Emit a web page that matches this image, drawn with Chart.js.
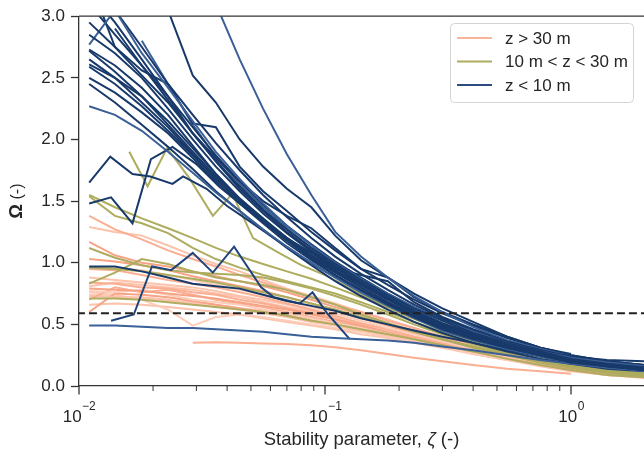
<!DOCTYPE html>
<html>
<head>
<meta charset="utf-8">
<script src="https://cdn.jsdelivr.net/npm/chart.js@4.4.1/dist/chart.umd.min.js"></script>
<style>
  html, body { margin: 0; padding: 0; background: #fff; }
  canvas { display: block; }
</style>
</head>
<body>
<canvas id="omegaChart" width="644" height="457"></canvas>
<script>
// shared stability parameter grid (zeta) for most profiles
const zeta = [0.011, 0.014, 0.018, 0.023, 0.029, 0.036, 0.045, 0.056, 0.07, 0.088, 0.11, 0.14, 0.18, 0.23, 0.3, 0.4, 0.55, 0.75, 1.0, 1.4, 2.0, 2.4];

// z < 10 m, values on the zeta grid
const lowSites = [
  [2.95, 2.75, 2.52, 2.3, 2.05, 1.83, 1.62, 1.43, 1.27, 1.12, 0.99, 0.86, 0.74, 0.63, 0.53, 0.43, 0.35, 0.28, 0.22, 0.18, 0.15, 0.14],
  [2.85, 2.7, 2.5, 2.25, 2.0, 1.78, 1.58, 1.4, 1.24, 1.09, 0.96, 0.83, 0.71, 0.6, 0.5, 0.41, 0.33, 0.27, 0.21, 0.17, 0.15, 0.13],
  [2.77, 3.05, 2.7, 2.42, 2.15, 1.9, 1.68, 1.48, 1.3, 1.14, 1.0, 0.87, 0.75, 0.64, 0.53, 0.44, 0.35, 0.28, 0.23, 0.19, 0.16, 0.14],
  [2.73, 2.6, 2.42, 2.2, 1.95, 1.72, 1.52, 1.36, 1.2, 1.06, 0.94, 0.82, 0.7, 0.59, 0.49, 0.41, 0.33, 0.26, 0.21, 0.17, 0.14, 0.13],
  [2.72, 2.55, 2.35, 2.12, 1.9, 1.7, 1.52, 1.35, 1.2, 1.05, 0.93, 0.8, 0.68, 0.58, 0.48, 0.4, 0.32, 0.25, 0.2, 0.16, 0.14, 0.12],
  [2.61, 2.5, 2.35, 2.15, 1.93, 1.72, 1.52, 1.34, 1.18, 1.04, 0.92, 0.8, 0.68, 0.57, 0.48, 0.4, 0.32, 0.26, 0.2, 0.17, 0.14, 0.12],
  [2.59, 2.45, 2.27, 2.07, 1.87, 1.68, 1.5, 1.33, 1.18, 1.03, 0.9, 0.78, 0.66, 0.56, 0.46, 0.38, 0.31, 0.25, 0.19, 0.16, 0.13, 0.12],
  [2.5, 2.38, 2.22, 2.05, 1.85, 1.66, 1.48, 1.32, 1.16, 1.02, 0.9, 0.78, 0.67, 0.57, 0.47, 0.39, 0.31, 0.25, 0.2, 0.16, 0.13, 0.12],
  [2.27, 2.2, 2.07, 1.9, 1.73, 1.57, 1.42, 1.27, 1.13, 1.0, 0.88, 0.76, 0.65, 0.55, 0.45, 0.37, 0.3, 0.24, 0.19, 0.15, 0.13, 0.12],
  [3.1, 2.85, 2.6, 2.35, 2.1, 1.87, 1.66, 1.47, 1.3, 1.15, 1.01, 0.88, 0.75, 0.64, 0.54, 0.45, 0.36, 0.29, 0.23, 0.19, 0.16, 0.14],
  [3.3, 3.05, 2.75, 2.45, 2.2, 1.97, 1.75, 1.55, 1.37, 1.2, 1.05, 0.91, 0.78, 0.66, 0.55, 0.45, 0.36, 0.29, 0.24, 0.21, 0.2, 0.18],
  [null, null, null, null, null, 3.1, 2.65, 2.25, 1.88, 1.55, 1.25, 1.05, 0.88, 0.73, 0.6, 0.48, 0.37, 0.3, 0.24, 0.19, 0.16, 0.15],
  [null, null, null, 3.05, 2.52, 2.3, 2.0, 1.78, 1.6, 1.45, 1.22, 1.02, 0.88, 0.75, 0.63, 0.52, 0.4, 0.31, 0.26, null, null, null],
  [3.3, 2.75, 2.56, 2.45, 2.13, 2.1, 1.78, 1.58, 1.42, 1.25, 1.1, 0.95, 0.82, 0.7, 0.59, 0.49, 0.39, 0.31, 0.25, 0.2, 0.17, 0.15],
  [3.2, 2.95, 2.65, 2.35, 2.05, 1.85, 1.66, 1.5, 1.38, 1.28, 1.12, 0.95, 0.88, 0.72, 0.6, 0.5, 0.4, 0.31, 0.25, 0.2, 0.17, 0.15],
  [0.97, 0.97, 0.93, 0.88, 0.83, 0.81, 0.79, 0.74, 0.69, 0.65, 0.61, 0.55, 0.5, 0.45, 0.4, 0.35, 0.29, 0.24, 0.19, 0.16, 0.13, 0.12],
  [0.49, 0.49, 0.48, 0.47, 0.47, 0.46, 0.45, 0.44, 0.42, 0.4, 0.39, 0.38, 0.37, 0.35, 0.32, 0.29, 0.25, 0.21, 0.18, 0.15, 0.12, 0.11],
  [null, 2.9, 2.6, 2.32, 2.05, 1.82, 1.6, 1.42, 1.25, 1.1, 0.97, 0.84, 0.72, 0.61, 0.51, 0.42, 0.34, 0.27, 0.21, 0.17, 0.14, 0.13],
  [null, null, 2.8, 2.45, 2.12, 1.86, 1.64, 1.45, 1.28, 1.12, 0.98, 0.85, 0.73, 0.62, 0.51, 0.42, 0.34, 0.27, 0.22, 0.18, 0.15, 0.14],
  [2.65, 2.5, 2.3, 2.1, 1.88, 1.68, 1.5, 1.35, 1.2, 1.08, 0.95, 0.9, 0.85, 0.68, 0.56, 0.46, 0.37, 0.3, 0.24, 0.2, 0.17, 0.15],
  [2.45, 2.3, 2.12, 1.94, 1.76, 1.58, 1.42, 1.27, 1.12, 0.98, 0.85, 0.73, 0.62, 0.52, 0.43, 0.35, 0.28, 0.22, 0.18, 0.14, 0.12, 0.11]
];
// which of the z < 10 m profiles use the lighter blue
const lowLight = [8, 11, 16, 2, 18];

// z < 10 m profiles with their own zeta points (zig-zags)
const lowZig1 = [[0.011, 1.65], [0.0134, 1.86], [0.0165, 1.72], [0.0195, 1.7], [0.024, 1.64], [0.0265, 1.7], [0.033, 1.6], [0.04, 1.46], [0.05, 1.33], [0.063, 1.19], [0.08, 1.05], [0.1, 0.93], [0.13, 0.8], [0.17, 0.68], [0.22, 0.58], [0.3, 0.48], [0.4, 0.4], [0.55, 0.32], [0.75, 0.25], [1.0, 0.2], [1.4, 0.17], [2.0, 0.14], [2.4, 0.13]];
const lowZig2 = [[0.011, 1.48], [0.0135, 1.53], [0.0165, 1.32], [0.0196, 1.84], [0.024, 1.94], [0.03, 1.8], [0.037, 1.62], [0.045, 1.48], [0.056, 1.34], [0.07, 1.2], [0.088, 1.06], [0.11, 0.94], [0.14, 0.82], [0.18, 0.7], [0.23, 0.6], [0.3, 0.5], [0.4, 0.42], [0.55, 0.34], [0.75, 0.27], [1.0, 0.22], [1.4, 0.18], [2.0, 0.15], [2.4, 0.14]];
const lowZig3 = [[0.0135, 0.53], [0.0167, 0.58], [0.0198, 0.97], [0.0237, 0.94], [0.029, 1.08], [0.035, 0.92], [0.0427, 1.13], [0.055, 0.8], [0.062, 0.72], [0.079, 0.67], [0.089, 0.76], [0.102, 0.59], [0.126, 0.38]];

// 10 m < z < 30 m
const midSites = [
  [1.55, 1.45, 1.36, 1.28, 1.2, 1.12, 1.05, 0.99, 0.93, 0.87, 0.8, 0.72, 0.64, 0.56, 0.47, 0.39, 0.31, 0.24, 0.18, 0.13, 0.1, 0.09],
  [1.54, 1.38, 1.32, 1.24, 1.12, 1.03, 0.96, 0.9, 0.85, 0.8, 0.75, 0.68, 0.6, 0.52, 0.44, 0.36, 0.29, 0.22, 0.16, 0.12, 0.09, 0.08],
  [1.12, 1.04, 0.98, 0.94, 0.92, 0.91, 0.9, 0.88, 0.84, 0.79, 0.73, 0.66, 0.58, 0.5, 0.42, 0.34, 0.27, 0.2, 0.15, 0.11, 0.08, 0.07],
  [0.83, 0.92, 1.03, 0.99, 0.93, 0.88, 0.85, 0.82, 0.78, 0.72, 0.66, 0.58, 0.51, 0.44, 0.38, 0.31, 0.25, 0.19, 0.15, 0.11, 0.08, 0.07],
  [0.71, 0.71, 0.7, 0.68, 0.66, 0.64, 0.62, 0.6, 0.57, 0.53, 0.5, 0.46, 0.42, 0.38, 0.33, 0.28, 0.22, 0.17, 0.13, 0.09, 0.07, 0.06],
  [0.96, 0.95, 0.93, 0.9, 0.87, 0.84, 0.8, 0.76, 0.72, 0.67, 0.62, 0.56, 0.5, 0.44, 0.38, 0.32, 0.26, 0.2, 0.15, 0.11, 0.08, 0.07]
];
const midZig = [[0.016, 1.9], [0.019, 1.62], [0.0228, 1.93], [0.028, 1.69], [0.035, 1.38], [0.042, 1.56], [0.051, 1.2], [0.065, 1.08], [0.08, 0.98], [0.1, 0.9], [0.13, 0.78], [0.17, 0.66], [0.22, 0.56], [0.3, 0.46], [0.4, 0.37], [0.55, 0.29], [0.75, 0.22], [1.0, 0.17], [1.4, 0.13], [2.0, 0.1], [2.4, 0.09]];

// z > 30 m
const highSites = [
  [1.38, 1.27, 1.19, 1.1, 1.03, 0.97, 0.9, 0.84, 0.78, 0.72, 0.66, 0.6, 0.53, 0.47, 0.4, 0.34, 0.27, 0.2, 0.15, 0.11, 0.08, 0.07],
  [1.29, 1.25, 1.22, 1.14, 1.06, 0.99, 0.93, 0.86, 0.79, 0.73, 0.67, 0.6, 0.54, 0.47, 0.4, 0.33, 0.26, 0.2, 0.15, 0.11, 0.08, 0.07],
  [1.17, 1.06, 1.0, 0.97, 0.93, 0.89, 0.85, 0.81, 0.76, 0.7, 0.64, 0.58, 0.51, 0.45, 0.39, 0.32, 0.25, 0.19, 0.14, 0.1, 0.08, 0.07],
  [0.96, 0.96, 0.94, 0.9, 0.86, 0.82, 0.78, 0.74, 0.69, 0.64, 0.59, 0.53, 0.47, 0.42, 0.36, 0.3, 0.24, 0.19, 0.14, 0.1, 0.08, 0.07],
  [0.95, 0.94, 0.9, 0.86, 0.83, 0.8, 0.76, 0.72, 0.67, 0.62, 0.57, 0.51, 0.46, 0.4, 0.35, 0.29, 0.23, 0.18, 0.13, 0.1, 0.075, 0.065],
  [0.88, 0.86, 0.84, 0.82, 0.8, 0.77, 0.73, 0.7, 0.66, 0.61, 0.56, 0.51, 0.45, 0.4, 0.35, 0.29, 0.23, 0.18, 0.13, 0.1, 0.075, 0.065],
  [0.79, 0.78, 0.77, 0.75, 0.73, 0.71, 0.68, 0.65, 0.62, 0.58, 0.54, 0.49, 0.44, 0.39, 0.34, 0.28, 0.23, 0.18, 0.13, 0.1, 0.075, 0.065],
  [0.77, 0.76, 0.78, 0.74, 0.7, 0.68, 0.66, 0.62, 0.59, 0.55, 0.51, 0.47, 0.42, 0.37, 0.33, 0.27, 0.22, 0.17, 0.13, 0.1, 0.07, 0.06],
  [0.7, 0.8, 0.76, 0.78, 0.74, 0.7, 0.67, 0.64, 0.6, 0.56, 0.52, 0.48, 0.44, 0.4, 0.35, 0.29, 0.23, 0.18, 0.13, 0.1, 0.07, 0.06],
  [0.73, 0.72, 0.72, 0.7, 0.67, 0.64, 0.62, 0.59, 0.56, 0.52, 0.49, 0.45, 0.41, 0.37, 0.33, 0.27, 0.22, 0.17, 0.13, 0.09, 0.07, 0.06],
  [0.6, 0.75, 0.74, 0.72, 0.69, 0.66, 0.63, 0.6, 0.57, 0.53, 0.5, 0.46, 0.42, 0.38, 0.34, 0.28, 0.23, 0.18, 0.13, 0.1, 0.07, 0.06],
  [0.76, 0.74, 0.7, 0.62, 0.49, 0.56, 0.58, 0.56, 0.53, 0.5, 0.47, 0.44, 0.4, 0.36, 0.32, 0.26, 0.21, 0.17, 0.13, 0.09, 0.07, 0.06],
  [null, null, null, null, 0.35, 0.355, 0.35, 0.345, 0.34, 0.33, 0.315, 0.29, 0.26, 0.23, 0.2, 0.17, 0.14, 0.12, 0.1, null, null, null],
  [0.66, 0.67, 0.66, 0.64, 0.62, 0.6, 0.58, 0.55, 0.52, 0.49, 0.46, 0.42, 0.39, 0.35, 0.31, 0.26, 0.21, 0.16, 0.12, 0.09, 0.065, 0.06],
  [1.03, 1.01, 0.98, 0.94, 0.89, 0.85, 0.81, 0.77, 0.72, 0.67, 0.61, 0.55, 0.49, 0.43, 0.37, 0.31, 0.25, 0.2, 0.15, 0.11, 0.08, 0.07],
  [0.74, 0.73, 0.71, 0.69, 0.68, 0.66, 0.63, 0.61, 0.58, 0.54, 0.5, 0.46, 0.42, 0.38, 0.33, 0.28, 0.22, 0.17, 0.13, 0.09, 0.07, 0.06],
  [0.84, 0.83, 0.8, 0.79, 0.76, 0.74, 0.7, 0.67, 0.63, 0.59, 0.55, 0.5, 0.45, 0.4, 0.35, 0.29, 0.24, 0.19, 0.14, 0.1, 0.08, 0.07],
  [0.81, 0.84, 0.82, 0.8, 0.78, 0.75, 0.72, 0.68, 0.64, 0.6, 0.55, 0.5, 0.45, 0.39, 0.34, 0.28, 0.23, 0.18, 0.14, 0.1, 0.075, 0.065]
];

const thresholdOmega = 0.59;
const yTicks = [0, 0.5, 1, 1.5, 2, 2.5, 3];
const xMajor = [0.01, 0.1, 1];
const xMajorExp = ['\u22122', '\u22121', '0'];
const legendNames = ['z > 30 m', '10 m < z < 30 m', 'z < 10 m'];

const FONT = '"Liberation Sans", Arial, "DejaVu Sans", sans-serif';
const AXIS = '#333333';
const TEXT = '#262626';
const NAVY = '#183a6b';
const BLUE = '#3b5f97';
const OLIVE = '#aeac5e';
const salmonShades = ['#faae92', '#fcc2ab', '#f7a386', '#fdcdb9'];
const legendColors = ['#f9b59b', '#aeac5e', '#2b4c82'];

function onGrid(vals) {
  return zeta.map((x, i) => ({ x: x, y: vals[i] }));
}
function fromPairs(pts) {
  return pts.map(p => ({ x: p[0], y: p[1] }));
}
function line(data, color, order) {
  return {
    data: data,
    borderColor: color,
    borderWidth: 2,
    pointRadius: 0,
    tension: 0,
    fill: false,
    spanGaps: false,
    order: order
  };
}

const datasets = [];
datasets.push({
  data: [{ x: 0.005, y: thresholdOmega }, { x: 3, y: thresholdOmega }],
  borderColor: '#222222',
  borderWidth: 1.8,
  borderDash: [8, 4],
  pointRadius: 0,
  order: 0
});
lowSites.forEach((v, i) => datasets.push(line(onGrid(v), lowLight.includes(i) ? BLUE : NAVY, 1)));
datasets.push(line(fromPairs(lowZig1), NAVY, 1));
datasets.push(line(fromPairs(lowZig2), NAVY, 1));
datasets.push(line(fromPairs(lowZig3), '#224579', 1));
midSites.forEach(v => datasets.push(line(onGrid(v), OLIVE, 2)));
datasets.push(line(fromPairs(midZig), OLIVE, 2));
highSites.forEach((v, i) => datasets.push(line(onGrid(v), salmonShades[i % salmonShades.length], 3)));

// spines, log ticks, axis titles and legend
const decorations = {
  id: 'decorations',
  afterDraw(chart) {
    const ctx = chart.ctx;
    const a = chart.chartArea;
    const xs = chart.scales.x;
    ctx.save();

    ctx.strokeStyle = AXIS;
    ctx.lineWidth = 1.3;
    ctx.beginPath();
    ctx.moveTo(a.left, a.top);
    ctx.lineTo(a.right, a.top);
    ctx.stroke();

    // x ticks: majors at decades, minors at 2..9
    for (let d = 0; d < xMajor.length; d++) {
      for (let m = 1; m < 10; m++) {
        const v = xMajor[d] * m;
        if (v > xs.max) break;
        const px = xs.getPixelForValue(v);
        ctx.lineWidth = m === 1 ? 1.3 : 1.0;
        ctx.beginPath();
        ctx.moveTo(px, a.bottom);
        ctx.lineTo(px, a.bottom + (m === 1 ? 8.5 : 5));
        ctx.stroke();
      }
    }

    // x tick labels 10^n
    ctx.fillStyle = TEXT;
    ctx.textBaseline = 'alphabetic';
    ctx.textAlign = 'left';
    xMajor.forEach((v, i) => {
      const px = xs.getPixelForValue(v);
      ctx.font = '17px ' + FONT;
      const wBase = ctx.measureText('10').width;
      ctx.font = '12px ' + FONT;
      const wExp = ctx.measureText(xMajorExp[i]).width;
      const x0 = px - (wBase + wExp) / 2;
      ctx.font = '17px ' + FONT;
      ctx.fillText('10', x0, 422);
      ctx.font = '12px ' + FONT;
      ctx.fillText(xMajorExp[i], x0 + wBase + 0.5, 410);
    });

    // x title with italic zeta
    const parts = [
      ['Stability parameter, ', '18.5px ' + FONT],
      ['\u03b6', 'italic 18.5px ' + FONT],
      [' (-)', '18.5px ' + FONT]
    ];
    let total = 0;
    parts.forEach(p => { ctx.font = p[1]; total += ctx.measureText(p[0]).width; });
    let cx = (a.left + a.right) / 2 - total / 2;
    parts.forEach(p => {
      ctx.font = p[1];
      ctx.fillText(p[0], cx, 445);
      cx += ctx.measureText(p[0]).width;
    });

    // y title with bold Omega
    ctx.save();
    ctx.translate(22, (a.top + a.bottom) / 2);
    ctx.rotate(-Math.PI / 2);
    const yparts = [['\u03a9', 'bold 18.5px ' + FONT], [' (-)', '16px ' + FONT]];
    let yt = 0;
    yparts.forEach(p => { ctx.font = p[1]; yt += ctx.measureText(p[0]).width; });
    let yx = -yt / 2;
    yparts.forEach(p => {
      ctx.font = p[1];
      ctx.fillText(p[0], yx, 0);
      yx += ctx.measureText(p[0]).width;
    });
    ctx.restore();

    // legend box
    const bx = 450.5, by = 23.5, bw = 183, bh = 79, r = 4;
    ctx.beginPath();
    ctx.moveTo(bx + r, by);
    ctx.lineTo(bx + bw - r, by);
    ctx.quadraticCurveTo(bx + bw, by, bx + bw, by + r);
    ctx.lineTo(bx + bw, by + bh - r);
    ctx.quadraticCurveTo(bx + bw, by + bh, bx + bw - r, by + bh);
    ctx.lineTo(bx + r, by + bh);
    ctx.quadraticCurveTo(bx, by + bh, bx, by + bh - r);
    ctx.lineTo(bx, by + r);
    ctx.quadraticCurveTo(bx, by, bx + r, by);
    ctx.closePath();
    ctx.fillStyle = 'rgba(255,255,255,0.85)';
    ctx.fill();
    ctx.strokeStyle = '#d4d4d4';
    ctx.lineWidth = 1;
    ctx.stroke();

    ctx.font = '17px ' + FONT;
    ctx.textBaseline = 'middle';
    legendNames.forEach((name, i) => {
      const ly = 38 + i * 23.5;
      ctx.strokeStyle = legendColors[i];
      ctx.lineWidth = 2;
      ctx.beginPath();
      ctx.moveTo(457, ly);
      ctx.lineTo(492, ly);
      ctx.stroke();
      ctx.fillStyle = TEXT;
      ctx.fillText(name, 505, ly + 1);
    });

    ctx.restore();
  }
};

new Chart(document.getElementById('omegaChart'), {
  type: 'line',
  data: { datasets: datasets },
  options: {
    responsive: false,
    animation: false,
    devicePixelRatio: 1,
    layout: { padding: { top: 14, right: 0, left: 0, bottom: 0 } },
    plugins: {
      legend: { display: false },
      tooltip: { enabled: false }
    },
    scales: {
      x: {
        type: 'logarithmic',
        min: 0.01,
        max: 1.98,
        ticks: { display: false },
        grid: { display: false },
        border: { display: true, color: AXIS, width: 1.3 },
        afterFit: s => { s.height = 71; }
      },
      y: {
        min: 0,
        max: 3,
        afterBuildTicks: s => { s.ticks = yTicks.map(v => ({ value: v })); },
        ticks: {
          callback: v => v.toFixed(1),
          color: TEXT,
          font: { family: FONT, size: 17 },
          padding: 6
        },
        grid: {
          display: true,
          drawOnChartArea: false,
          drawTicks: true,
          tickLength: 8,
          tickColor: AXIS,
          tickWidth: 1.3
        },
        border: { display: true, color: AXIS, width: 1.3 },
        afterFit: s => { s.width = 79; }
      }
    }
  },
  plugins: [decorations]
});
</script>
</body>
</html>
